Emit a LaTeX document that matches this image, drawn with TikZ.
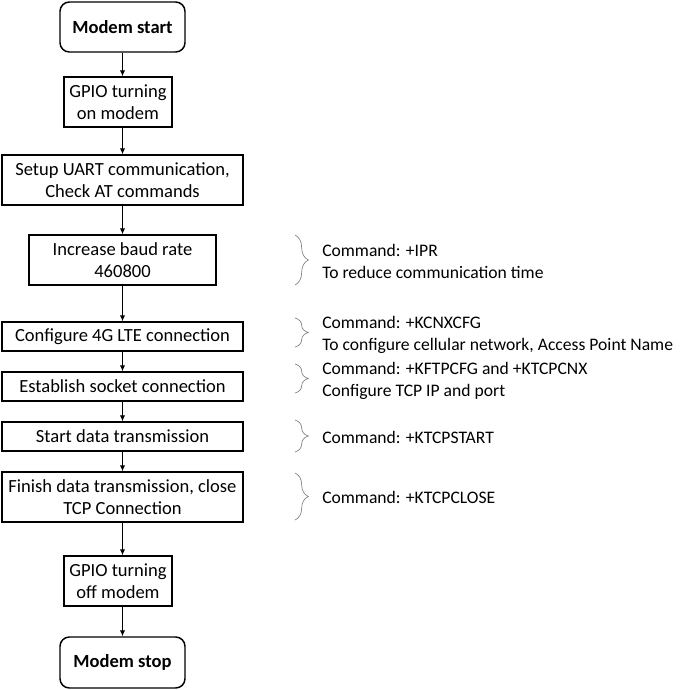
\documentclass[tikz,border=0pt]{standalone}
\usepackage{fontspec}
\setmainfont{Carlito}
\usetikzlibrary{arrows.meta, decorations.pathreplacing}

\begin{document}
\begin{tikzpicture}[x=0.75pt, y=-0.75pt,
  every node/.style={font=\fontsize{13.9}{16.5}\selectfont},
  box/.style={draw, line width=1.1pt, align=center, inner sep=0pt, minimum width=180.75pt},
  term/.style={box, rounded corners=7pt, minimum width=93.75pt, minimum height=37.5pt, font=\fontsize{13.9}{16.5}\selectfont\bfseries},
  flow/.style={-{Latex[length=4.5pt, width=4pt]}, line width=0.75pt},
  brc/.style={decorate, decoration={brace, amplitude=10pt}, draw=gray, line width=0.5pt},
  note/.style={anchor=west, align=left, inner sep=0pt, font=\fontsize{13.2}{16.5}\selectfont}]
\useasboundingbox (0,0) rectangle (685,690);

\node[term] (start) at (122.5, 27) {Modem start};
\node[box, minimum width=81pt, minimum height=37.5pt] (gpioon) at (118, 102) {GPIO turning\\on modem};
\node[box, minimum height=37.5pt] (uart) at (122.5, 180) {Setup UART communication,\\Check AT commands};
\node[box, minimum width=140.25pt, minimum height=37.5pt] (baud) at (122.5, 260) {Increase baud rate\\460800};
\node[box, minimum height=21.75pt] (lte) at (122.5, 336.5) {Configure 4G LTE connection};
\node[box, minimum height=21.75pt] (sock) at (122.5, 386.5) {Establish socket connection};
\node[box, minimum height=21.75pt] (txstart) at (122.5, 436.5) {Start data transmission};
\node[box, minimum height=37.5pt] (txend) at (122.5, 497) {Finish data transmission, close\\TCP Connection};
\node[box, minimum width=81pt, minimum height=37.5pt] (gpiooff) at (118, 581) {GPIO turning\\off modem};
\node[term, minimum height=38.25pt] (stop) at (122.5, 662.5) {Modem stop};

\draw[flow] (start.south) -- (start.south |- gpioon.north);
\draw[flow] (uart.north |- gpioon.south) -- (uart.north);
\draw[flow] (uart) -- (baud);
\draw[flow] (baud) -- (lte);
\draw[flow] (lte) -- (sock);
\draw[flow] (sock) -- (txstart);
\draw[flow] (txstart) -- (txend);
\draw[flow] (txend.south) -- (txend.south |- gpiooff.north);
\draw[flow] (stop.north |- gpiooff.south) -- (stop.north);

\draw[brc] (295, 235) -- (295, 285);
\draw[brc] (295, 318) -- (295, 347);
\draw[brc] (295, 364) -- (295, 393);
\draw[brc] (295, 420) -- (295, 452);
\draw[brc] (295, 473) -- (295, 520);

\node[note] (ipr) at (322, 261) {Command: +IPR\\To reduce communication time};
\node[note] (cnx) at (322, 335) {Command: +KCNXCFG\\To configure cellular network, Access Point Name};
\node[note] (tcp) at (322, 381) {Command: +KFTPCFG and +KTCPCNX\\Configure TCP IP and port};
\node[note] (tx) at (322, 437) {Command: +KTCPSTART};
\node[note] (close) at (322, 497) {Command: +KTCPCLOSE};
\end{tikzpicture}
\end{document}
